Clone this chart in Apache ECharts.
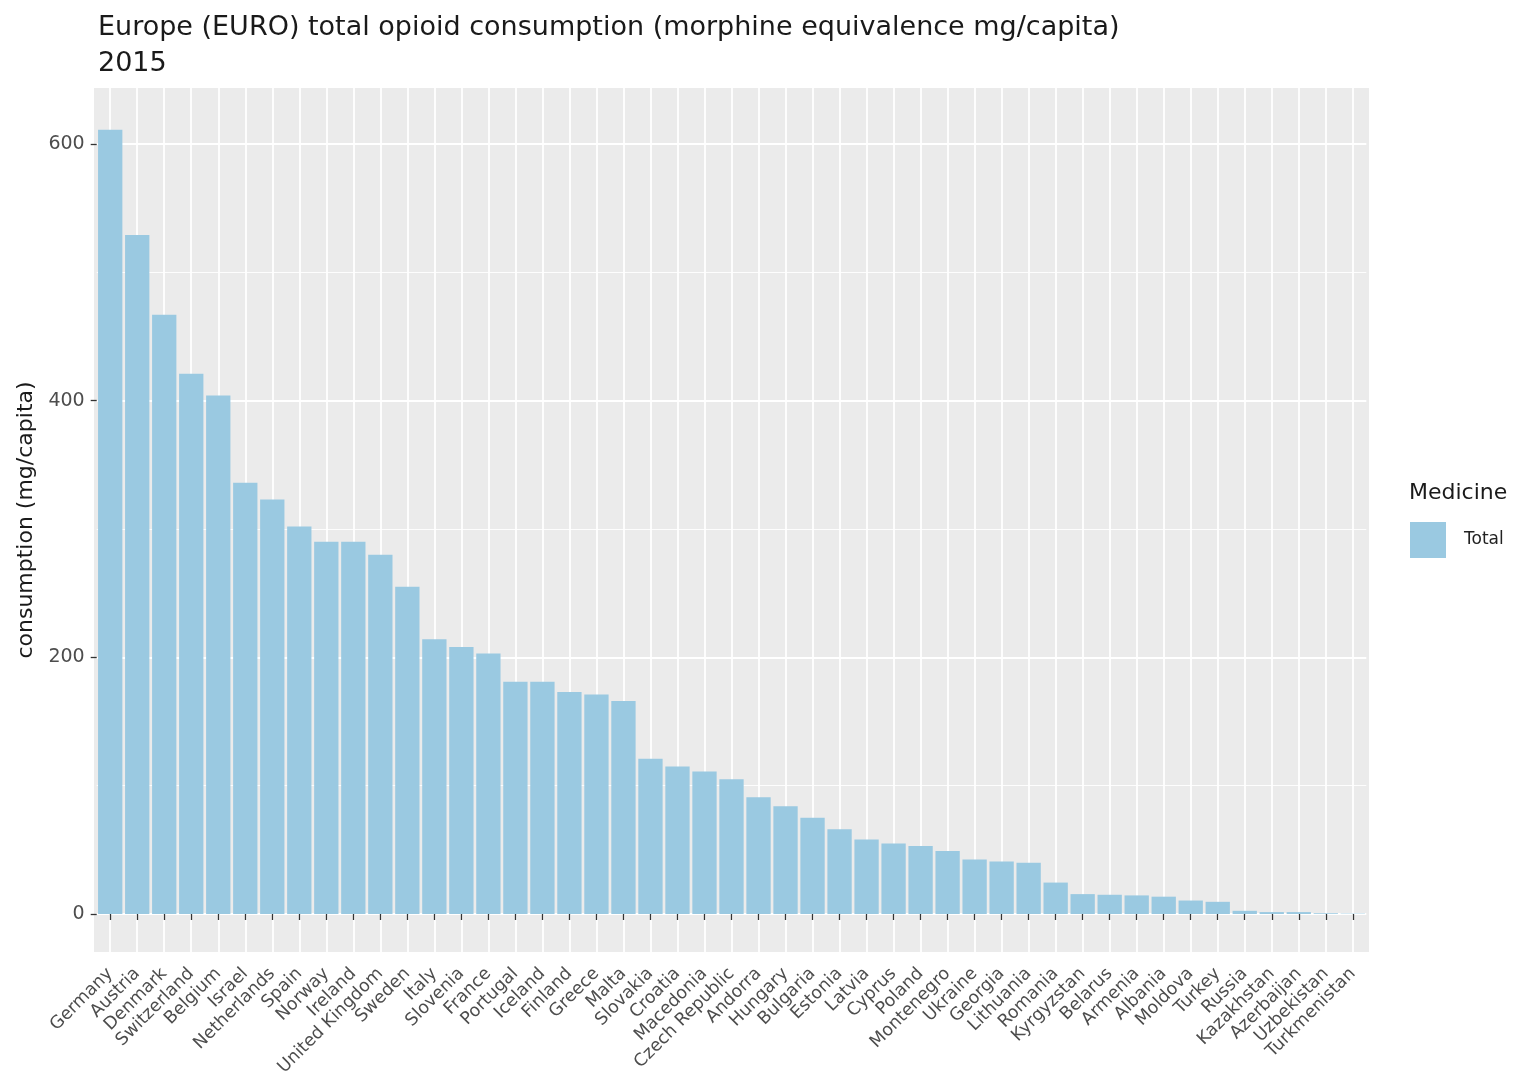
<!DOCTYPE html>
<html>
<head>
<meta charset="utf-8">
<script src="https://cdn.jsdelivr.net/npm/echarts@6/dist/echarts.min.js"></script>
<style>
html,body{margin:0;padding:0;background:#fff;}
#chart{width:1516px;height:1087px;}
</style>
</head>
<body>
<div id="chart"></div>
<script>
const countries = ["Germany","Austria","Denmark","Switzerland","Belgium","Israel","Netherlands","Spain","Norway","Ireland","United Kingdom","Sweden","Italy","Slovenia","France","Portugal","Iceland","Finland","Greece","Malta","Slovakia","Croatia","Macedonia","Czech Republic","Andorra","Hungary","Bulgaria","Estonia","Latvia","Cyprus","Poland","Montenegro","Ukraine","Georgia","Lithuania","Romania","Kyrgyzstan","Belarus","Armenia","Albania","Moldova","Turkey","Russia","Kazakhstan","Azerbaijan","Uzbekistan","Turkmenistan"];
const consumption = [611,529,467,421,404,336,323,302,290,290,280,255,214,208,203,181,181,173,171,166,121,115,111,105,91,84,75,66,58,55,53,49,42.5,41,40,24.5,15.5,15,14.5,13.5,10.5,9.5,2.5,1.5,1.5,0.6,0.3];
const majorTicks = [0,200,400,600];
const minorTicks = [100,300,500];
const seriesName = "Total";
const legendTitle = "Medicine";
const titleText = "Europe (EURO) total opioid consumption (morphine equivalence mg/capita)\n2015";
const yName = "consumption (mg/capita)";

const FONT = 'DejaVu Sans, sans-serif';
const chart = echarts.init(document.getElementById('chart'), null, {renderer:'canvas'});
const BAR = '#9AC9E1';
const panel = {x0:94, x1:1369, y0:88, y1:952};
const band = (panel.x1 - panel.x0) / (countries.length + 0.2);
const gLeft = panel.x0 + 0.1*band, gRight = 1516 - (panel.x1 - 0.1*band);
const yMin = -29.6, yMax = 643.6;

chart.setOption({
  backgroundColor:'#ffffff',
  animation:false,
  title:{
    text:titleText, left:93, top:5,
    textStyle:{fontFamily:FONT, fontSize:27, fontWeight:'normal', color:'#1a1a1a', lineHeight:36}
  },
  graphic:[
    {type:'rect', z:-10, silent:true, shape:{x:panel.x0, y:panel.y0, width:panel.x1-panel.x0, height:panel.y1-panel.y0}, style:{fill:'#EBEBEB'}},
    {type:'text', left:1409, top:482, style:{text:legendTitle, fontFamily:FONT, fontSize:22, fill:'#1a1a1a'}}
  ],
  legend:{
    data:[seriesName], left:1405, top:517, orient:'vertical', icon:'rect',
    itemWidth:36, itemHeight:36, itemGap:8,
    textStyle:{fontFamily:FONT, fontSize:17, color:'#222', padding:[0,0,0,13]},
    selectedMode:false
  },
  grid:{left:gLeft, right:gRight, top:panel.y0, bottom:1087-panel.y1, containLabel:false},
  xAxis:{
    type:'category', data:countries, boundaryGap:true,
    axisLine:{show:false},
    axisTick:{show:true, alignWithLabel:true, interval:0, length:6, lineStyle:{color:'#333', width:1.3}},
    axisLabel:{interval:0, rotate:45, margin:19, fontFamily:FONT, fontSize:17.5, color:'#4D4D4D'},
    splitLine:{show:true, alignWithLabel:true, interval:0, lineStyle:{color:'#ffffff', width:1.8}}
  },
  yAxis:[
    {type:'value', min:yMin, max:yMax,
     name:yName, nameLocation:'middle', nameRotate:90, nameGap:59,
     nameTextStyle:{fontFamily:FONT, fontSize:22, color:'#1a1a1a'},
     axisLine:{show:false},
     axisTick:{show:true, customValues:majorTicks, length:6, lineStyle:{color:'#333', width:1.3}},
     axisLabel:{customValues:majorTicks, margin:12, fontFamily:FONT, fontSize:19, color:'#4D4D4D'},
     splitLine:{show:true, lineStyle:{color:'#ffffff', width:1.8}}
    },
    {type:'value', min:yMin, max:yMax,
     axisLine:{show:false}, axisLabel:{show:false},
     axisTick:{show:false, customValues:minorTicks},
     splitLine:{show:true, lineStyle:{color:'#ffffff', width:0.9}}
    }
  ],
  series:[{
    name:seriesName, type:'bar', data:consumption, barWidth:'90%', yAxisIndex:0,
    itemStyle:{color:BAR}
  }]
});
</script>
</body>
</html>
